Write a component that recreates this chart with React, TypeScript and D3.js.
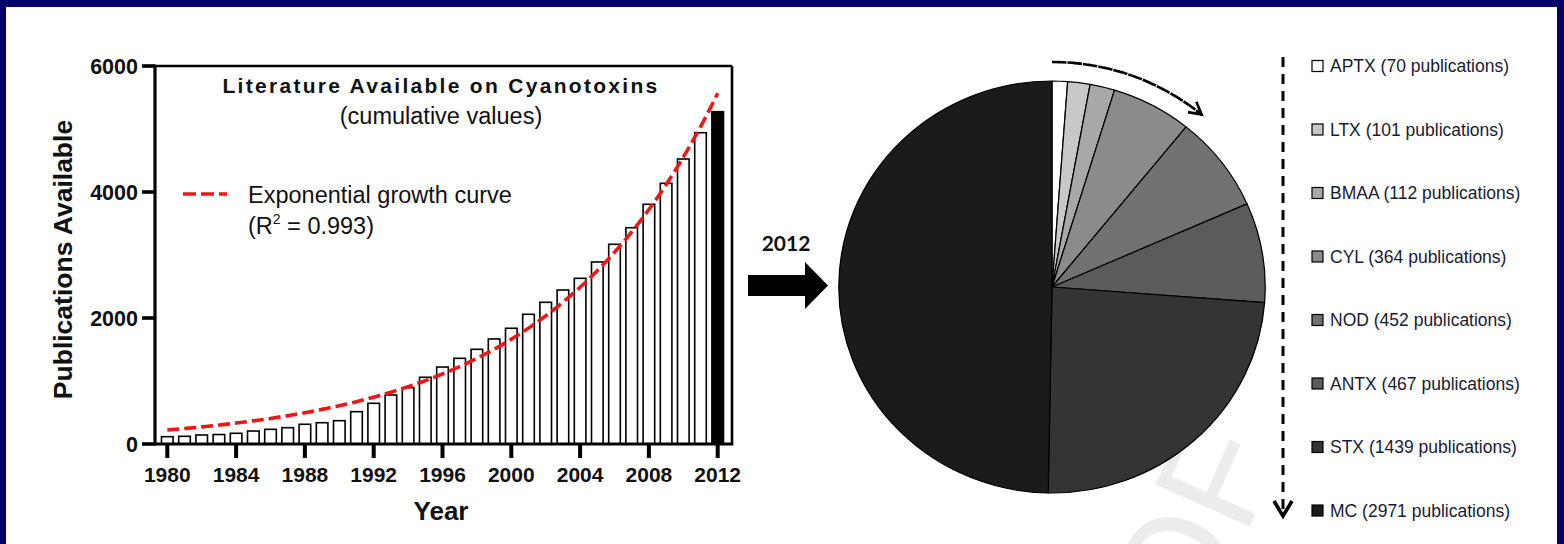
import React from "react";
import * as d3 from "d3";

const years: number[] = d3.range(1980, 2013);
const cumulativePublications: number[] = [
  116, 122, 143, 150, 170, 206, 233, 259, 313, 338, 370, 513, 646, 778, 894, 1059,
  1222, 1360, 1503, 1667, 1837, 2059, 2249, 2444, 2630, 2889, 3170, 3433, 3805, 4138,
  4524, 4941, 5275,
];
const yTicks: number[] = [0, 2000, 4000, 6000];
const xTicks: number[] = [1980, 1984, 1988, 1992, 1996, 2000, 2004, 2008, 2012];
// exponential fit parameters (value at 1980, growth rate per year)
const expA = 222;
const expK = 0.10069;

const toxins: string[] = ["APTX", "LTX", "BMAA", "CYL", "NOD", "ANTX", "STX", "MC"];
const toxinPubs: number[] = [70, 101, 112, 364, 452, 467, 1439, 2971];
const toxinColors: string[] = ["#ffffff", "#c8c8c8", "#a8a8a8", "#8b8b8b", "#727272", "#5b5b5b", "#343434", "#1b1b1b"];

const NAVY = "#010167";
const ARIAL = "'Liberation Sans', Arial, sans-serif";

export default function App() {
  const x = d3.scaleLinear().domain([1980, 2012]).range([167.3, 717.7]);
  const y = d3.scaleLinear().domain([0, 6000]).range([444, 66]);
  const barW = 11.6;
  const axisLeft = 155;
  const axisRight = 732;

  const curvePts = d3.range(1980, 2012.001, 0.25).map((t) => [t, expA * Math.exp(expK * (t - 1980))] as [number, number]);
  const curve = d3
    .line<[number, number]>()
    .x((d) => x(d[0]))
    .y((d) => y(d[1]))(curvePts);

  // pie (slightly wider than tall, as in the reference)
  const cx = 1052;
  const cy = 287;
  const r = 206;
  const sx = 1.035;
  const pieData = d3.pie<number>().sort(null).value((d) => d)(toxinPubs);
  const arcGen = d3.arc<d3.PieArcDatum<number>>().innerRadius(0).outerRadius(r);

  // curved dashed arrow around pie
  const arrowR = 225;
  const arrowEnd = (40 * Math.PI) / 180;
  const arcPath = d3.arc()({ innerRadius: arrowR, outerRadius: arrowR, startAngle: 0.0, endAngle: arrowEnd } as any);
  const tipX = cx + sx * arrowR * Math.sin(arrowEnd);
  const tipY = cy - arrowR * Math.cos(arrowEnd);
  const tx = sx * Math.cos(arrowEnd);
  const ty = Math.sin(arrowEnd);
  const wing = (ang: number) => {
    const a = Math.atan2(ty, tx) + Math.PI + ang;
    return [tipX + 14 * Math.cos(a), tipY + 14 * Math.sin(a)];
  };
  const w1 = wing(0.5);
  const w2 = wing(-0.5);

  const legendY = d3.scalePoint<string>().domain(toxins).range([66, 510.5]);

  return (
    <svg width={1564} height={544} style={{ position: "absolute", left: 0, top: 0 }}>
      <defs>
        <clipPath id="panelClip">
          <rect x={6} y={7} width={1551} height={537} />
        </clipPath>
      </defs>
      <rect x={0} y={0} width={1564} height={544} fill={NAVY} />
      <rect x={6} y={7} width={1551} height={537} fill="#ffffff" />

      {/* watermark */}
      <g clipPath="url(#panelClip)">
        <text
          transform="translate(1282,454) rotate(-66)"
          textAnchor="end"
          fontFamily={ARIAL}
          fontSize={150}
          fill="#ececec"
        >
          PROOF
        </text>
      </g>

      {/* ===== Bar chart ===== */}
      {years.map((yr, i) => (
        <rect
          key={yr}
          x={x(yr) - barW / 2}
          y={y(cumulativePublications[i])}
          width={barW}
          height={y(0) - y(cumulativePublications[i])}
          fill={yr === 2012 ? "#000" : "#fff"}
          stroke="#000"
          strokeWidth={1.6}
        />
      ))}
      <path d={curve || ""} fill="none" stroke="#f21515" strokeWidth={3.6} strokeDasharray="12 5" />

      {/* frame */}
      <line x1={axisLeft} x2={axisRight} y1={y(6000)} y2={y(6000)} stroke="#000" strokeWidth={2.6} />
      <line x1={axisRight} x2={axisRight} y1={y(6000)} y2={y(0)} stroke="#000" strokeWidth={2.6} />
      <line x1={axisLeft} x2={axisLeft} y1={y(6000) - 1.3} y2={y(0) + 1.5} stroke="#000" strokeWidth={3.2} />
      <line x1={axisLeft} x2={axisRight + 1.3} y1={y(0)} y2={y(0)} stroke="#000" strokeWidth={3.2} />

      {yTicks.map((t) => (
        <g key={t}>
          <line x1={142} x2={axisLeft} y1={y(t)} y2={y(t)} stroke="#000" strokeWidth={3.6} />
          <text x={138} y={y(t) + 7.5} textAnchor="end" fontFamily={ARIAL} fontWeight="bold" fontSize={21.5} fill="#111">
            {t}
          </text>
        </g>
      ))}
      {xTicks.map((t) => (
        <g key={t}>
          <line x1={x(t)} x2={x(t)} y1={y(0)} y2={458} stroke="#000" strokeWidth={4} />
          <text x={x(t)} y={482} textAnchor="middle" fontFamily={ARIAL} fontWeight="bold" fontSize={21} fill="#111">
            {t}
          </text>
        </g>
      ))}
      <text x={441} y={520} textAnchor="middle" fontFamily={ARIAL} fontWeight="bold" fontSize={26} fill="#111">
        Year
      </text>
      <text
        transform="translate(72,259.5) rotate(-90)"
        textAnchor="middle"
        fontFamily={ARIAL}
        fontWeight="bold"
        fontSize={26.5}
        fill="#111"
      >
        Publications Available
      </text>

      <text x={441} y={93} textAnchor="middle" fontFamily={ARIAL} fontWeight="bold" fontSize={21} letterSpacing={2.3} fill="#111">
        Literature Available on Cyanotoxins
      </text>
      <text x={441} y={124} textAnchor="middle" fontFamily={ARIAL} fontSize={23.5} fill="#111">
        (cumulative values)
      </text>

      <line x1={183} x2={227} y1={194} y2={194} stroke="#f21515" strokeWidth={3.6} strokeDasharray="13 5" />
      <text x={248} y={203} fontFamily={ARIAL} fontSize={23.5} fill="#111">
        Exponential growth curve
      </text>
      <text x={248} y={234} fontFamily={ARIAL} fontSize={23.5} fill="#111">
        (R<tspan fontSize={14} dy={-10}>2</tspan>
        <tspan dy={10}> = 0.993)</tspan>
      </text>

      {/* ===== 2012 arrow ===== */}
      <text x={786} y={251} textAnchor="middle" fontFamily="Lato, 'Open Sans', sans-serif" fontWeight="bold" fontSize={21} fill="#111">
        2012
      </text>
      <polygon points="748,275 805,275 805,262 828,285.5 805,309 805,296 748,296" fill="#000" />

      {/* ===== Pie ===== */}
      <g transform={`translate(${cx},${cy}) scale(${sx},1)`}>
        {pieData.map((d, i) => (
          <path key={toxins[i]} d={arcGen(d) || ""} fill={toxinColors[i]} stroke="#000" strokeWidth={1.2} strokeLinejoin="round" />
        ))}
        <path d={arcPath || ""} fill="none" stroke="#000" strokeWidth={2.6} strokeDasharray="9 6" />
      </g>
      <polyline points={`${w1[0]},${w1[1]} ${tipX},${tipY} ${w2[0]},${w2[1]}`} fill="none" stroke="#000" strokeWidth={2.6} />

      {/* ===== Legend ===== */}
      <line x1={1283} x2={1283} y1={57} y2={514} stroke="#000" strokeWidth={3} strokeDasharray="10 7" />
      <polyline points="1274,501 1283,516 1292,501" fill="none" stroke="#000" strokeWidth={3.6} />
      {toxins.map((t, i) => (
        <g key={t}>
          <rect x={1312} y={legendY(t)! - 5.5} width={11} height={11} fill={toxinColors[i]} stroke="#000" strokeWidth={1.2} />
          <text x={1330} y={legendY(t)! + 6} fontFamily={ARIAL} fontSize={17.5} fill="#1a1a30">
            {t} ({toxinPubs[i]} publications)
          </text>
        </g>
      ))}
    </svg>
  );
}
